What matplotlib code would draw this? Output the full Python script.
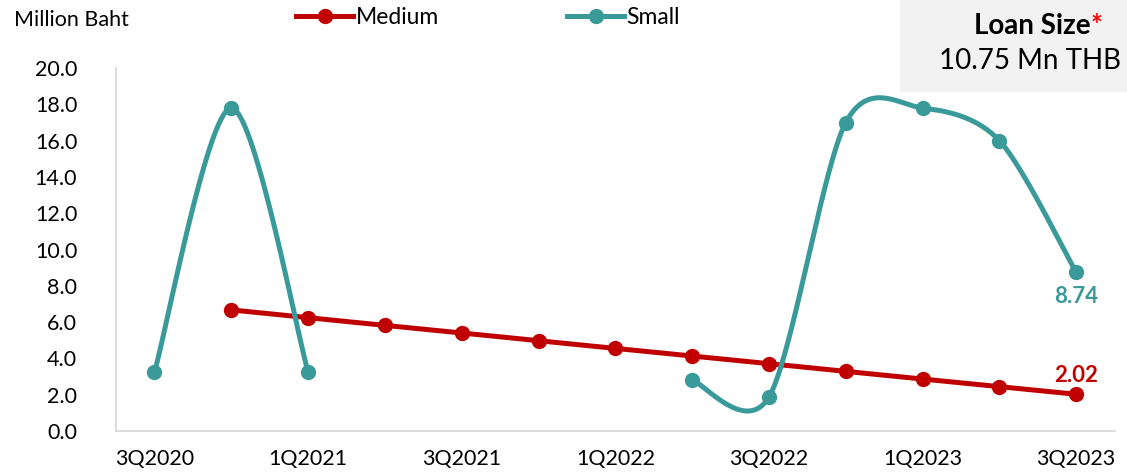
import numpy as np
import matplotlib.pyplot as plt
from matplotlib.lines import Line2D
from matplotlib.patches import Rectangle

plt.rcParams['font.family'] = ['Lato', 'DejaVu Sans']

quarters = ['3Q2020', '4Q2020', '1Q2021', '2Q2021', '3Q2021', '4Q2021', '1Q2022',
            '2Q2022', '3Q2022', '4Q2022', '1Q2023', '2Q2023', '3Q2023']
medium = [np.nan, 6.67, 6.24, 5.82, 5.40, 4.97, 4.55, 4.13, 3.71, 3.28, 2.86, 2.44, 2.02]
small = [3.25, 17.8, 3.25, np.nan, np.nan, np.nan, np.nan, 2.8, 1.87, 17.0, 17.8, 16.0, 8.74]

RED = '#C00000'
TEAL = '#3A9A9A'
AXIS_GREY = '#D9D9D9'


def smooth(xs, ys, n=40, k=0.15):
    # bezier through each unbroken run of points (excel-like smoothed line)
    xs = np.asarray(xs, float)
    ys = np.asarray(ys, float)
    ok = ~np.isnan(ys)
    runs, cur = [], []
    for i in range(len(ys)):
        if ok[i]:
            cur.append(i)
        elif cur:
            runs.append(cur)
            cur = []
    if cur:
        runs.append(cur)
    out = []
    for r in runs:
        P = np.column_stack([xs[r], ys[r]])
        if len(P) < 2:
            out.append((P[:, 0], P[:, 1]))
            continue
        t = np.linspace(0, 1, n)[:, None]
        segs = []
        for i in range(len(P) - 1):
            p0 = P[i - 1] if i > 0 else P[i]
            p1, p2 = P[i], P[i + 1]
            p3 = P[i + 2] if i + 2 < len(P) else P[i + 1]
            c1 = p1 + (p2 - p0) * k
            c2 = p2 - (p3 - p1) * k
            seg = ((1 - t) ** 3 * p1 + 3 * (1 - t) ** 2 * t * c1
                   + 3 * (1 - t) * t ** 2 * c2 + t ** 3 * p2)
            segs.append(seg)
        pts = np.vstack(segs)
        out.append((pts[:, 0], pts[:, 1]))
    return out


fig = plt.figure(figsize=(11.27, 4.73), dpi=100)
ax = fig.add_axes([0.103, 0.089, 0.886, 0.767])

x = np.arange(len(quarters))
for series, col in [(medium, RED), (small, TEAL)]:
    for sx, sy in smooth(x, series):
        ax.plot(sx, sy, color=col, lw=3.6, solid_capstyle='round', zorder=3)
    ax.plot(x, series, 'o', color=col, ms=10, zorder=4)

ax.text(x[-1], small[-1] - 1.35, f'{small[-1]:.2f}', color=TEAL, fontsize=16,
        fontweight='bold', ha='center', va='center')
ax.text(x[-1], medium[-1] + 1.05, f'{medium[-1]:.2f}', color=RED, fontsize=16,
        fontweight='bold', ha='center', va='center')

ax.set_xlim(-0.5, len(quarters) - 0.5)
ax.set_ylim(0, 20)
ax.set_yticks(np.arange(0, 20.1, 2))
ax.set_yticklabels([f'{v:.1f}' for v in np.arange(0, 20.1, 2)])
ax.set_xticks(x[::2])
ax.set_xticklabels(quarters[::2])
ax.tick_params(length=0, labelsize=15.5, colors='#000000')
ax.tick_params(axis='y', pad=28)
ax.tick_params(axis='x', pad=13)
for s in ['top', 'right']:
    ax.spines[s].set_visible(False)
for s in ['left', 'bottom']:
    ax.spines[s].set_color(AXIS_GREY)
    ax.spines[s].set_linewidth(1.3)

fig.text(0.012, 0.958, 'Million Baht', fontsize=15.5, ha='left', va='center')

handles = [Line2D([], [], color=RED, lw=3.6, marker='o', ms=10),
           Line2D([], [], color=TEAL, lw=3.6, marker='o', ms=10)]
fig.legend(handles, ['Medium', 'Small'], loc='center', bbox_to_anchor=(0.433, 0.962),
           ncol=2, frameon=False, fontsize=16.5, handlelength=2.5, handletextpad=0.1,
           columnspacing=5.6)

# loan size box, top right
fig.patches.append(Rectangle((0.799, 0.805), 0.201, 0.195, transform=fig.transFigure,
                             facecolor='#F2F2F2', edgecolor='none', zorder=0))
fig.text(0.968, 0.945, 'Loan Size', fontsize=20, fontweight='bold',
         ha='right', va='center')
fig.text(0.968, 0.945, '*', fontsize=20, fontweight='bold', color='#FF0000',
         ha='left', va='center')
fig.text(0.914, 0.872, '10.75 Mn THB', fontsize=20, ha='center', va='center')

fig.savefig('out.png', dpi=100)
